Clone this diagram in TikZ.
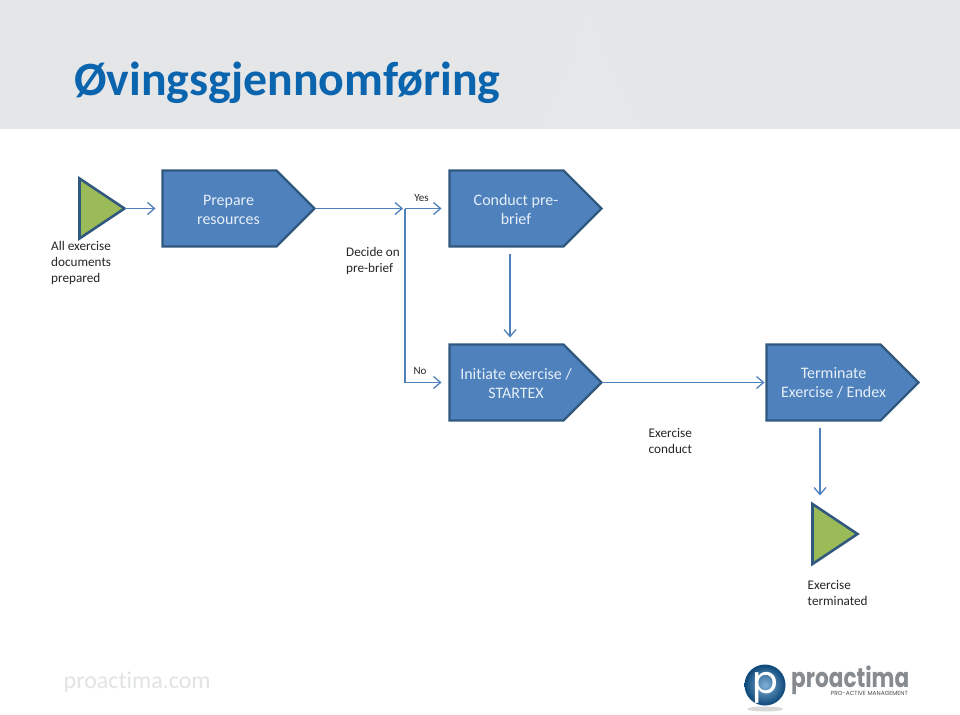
\documentclass[tikz,border=0pt]{standalone}
\usepackage{fontspec}
\setmainfont[Ligatures={NoCommon,TeX}]{Carlito}
\newfontfamily\logofont{Poppins}
\usetikzlibrary{arrows.meta,shapes.geometric,shapes.symbols,calc}
\definecolor{hdr}{HTML}{E5E6E7}
\definecolor{hdrlight}{HTML}{E6E7E8}
\definecolor{titleblue}{HTML}{0A64AE}
\definecolor{boxfill}{HTML}{4F81BD}
\definecolor{boxline}{HTML}{31587F}
\definecolor{conn}{HTML}{4F82BC}
\definecolor{tri}{HTML}{9BBB59}
\definecolor{boxtext}{HTML}{E6EFF8}
\definecolor{foot}{HTML}{E2E3E4}
\definecolor{logogray}{HTML}{868B90}
\definecolor{logoblue}{HTML}{1B6AA8}
\definecolor{logodark}{HTML}{0C4778}
\definecolor{logolight}{HTML}{7FB0D6}
\tikzset{
  x=1pt,y=-1pt,
  pent/.style={signal,signal to=east,signal from=nowhere,signal pointer angle=90,
    minimum width=152pt,minimum height=76pt,inner sep=0pt,outer sep=0pt,
    fill=boxfill,draw=boxline,line width=2.2pt,anchor=east,line join=miter},
  pentext/.style={font=\fontsize{16}{19}\selectfont,text=boxtext,align=center,inner sep=0pt},
  tritok/.style={isosceles triangle,isosceles triangle stretches,shape border rotate=0,
    minimum width=60pt,minimum height=45pt,inner sep=0pt,outer sep=0pt,
    fill=tri,draw=boxline,line width=2.6pt,anchor=apex},
  lbl/.style={font=\fontsize{13.2}{16}\selectfont,text=black!85,align=left,inner sep=0pt,anchor=north west},
  smalllbl/.style={font=\fontsize{11}{13}\selectfont,text=black!85,inner sep=0pt},
  flow/.style={draw=conn,line width=1.4pt,-{Straight Barb[length=7pt,width=12pt,line width=1.3pt]}},
}
\begin{document}
\begin{tikzpicture}
\useasboundingbox (0,0) rectangle (960,714);
\fill[white] (0,0) rectangle (960,714);
% header band
\fill[hdr] (0,0) rectangle (960,129);
\fill[hdrlight] (535,129) -- (570,60) -- (585,5) -- (610,60) -- (645,129) -- cycle;
\node[anchor=base west,inner sep=0pt,text=titleblue,font=\fontsize{47.8}{50}\selectfont\bfseries] (title) at (74,96) {Øvingsgjennomføring};
% shapes
\node[tritok] (start) at (124.5,208.5) {};
\node[pent] (prep) at (314.5,208.5) {};
\node[pent] (conduct) at (601.5,208.5) {};
\node[pent] (init) at (601.5,382.5) {};
\node[pent] (term) at (918.5,382.5) {};
\node[tritok] (stop) at (857.5,534) {};
% box texts
\node[pentext] (preptxt) at (228.5,209.5) {Prepare\\resources};
\node[pentext] (conducttxt) at (516,209.5) {Conduct pre-\\brief};
\node[pentext] (inittxt) at (516,383) {Initiate exercise /\\STARTEX};
\node[pentext] (termtxt) at (833.5,383) {Terminate\\Exercise / Endex};
% labels
\node[lbl] (l1) at (51,241.5) {All exercise\\documents\\prepared};
\node[lbl] (l2) at (346,247.5) {Decide on\\pre-brief};
\node[lbl] (l3) at (648.5,428.5) {Exercise\\conduct};
\node[lbl] (l4) at (807.5,580) {Exercise\\terminated};
\node[smalllbl] (yes) at (421.5,198) {Yes};
\node[smalllbl] (no) at (420,371.5) {No};
% connectors
\coordinate (jn) at (405,208.5);
\coordinate (cx) at (510,0);
\coordinate (tx) at (820,0);
\coordinate (stoptop) at (820,495.5);
\draw[flow,shorten >=7pt] (start.apex) -- (prep.west);
\draw[flow,shorten >=2pt] (prep.east) -- (jn);
\draw[flow,shorten >=8pt] (jn) -- (conduct.west);
\draw[flow,shorten >=8pt] (jn) |- (init.west);
\draw[flow,shorten <=7pt,shorten >=7pt] (conduct.south -| cx) -- (init.north -| cx);
\draw[flow,shorten >=2pt] (init.east) -- (term.west);
\draw[flow,shorten <=7pt] (term.south -| tx) -- (stoptop);
% footer
\node[anchor=base west,inner sep=0pt,text=foot,font=\fontsize{24}{30}\selectfont] (foot) at (63.5,688.5) {proactima.com};
% logo
\fill[black!25,opacity=.6] (765,709) ellipse (18 and 2.5);
\shade[inner color=logolight,middle color=logoblue,outer color=logodark] (765,685) circle (20.5);
\node[anchor=base,inner sep=0pt,text=white,font=\logofont\fontsize{38}{40}\selectfont] (logop) at (765.5,693) {p};
\node[anchor=base west,inner sep=0pt,text=logogray,font=\logofont\bfseries\fontsize{27}{30}\selectfont,xscale=.8] (logotxt) at (791,687) {proactima};
\node[anchor=base east,inner sep=0pt,text=black!70,font=\logofont\fontsize{5.9}{6}\selectfont] (logotag) at (908,695) {PRO-ACTIVE MANAGEMENT};
\end{tikzpicture}
\end{document}
